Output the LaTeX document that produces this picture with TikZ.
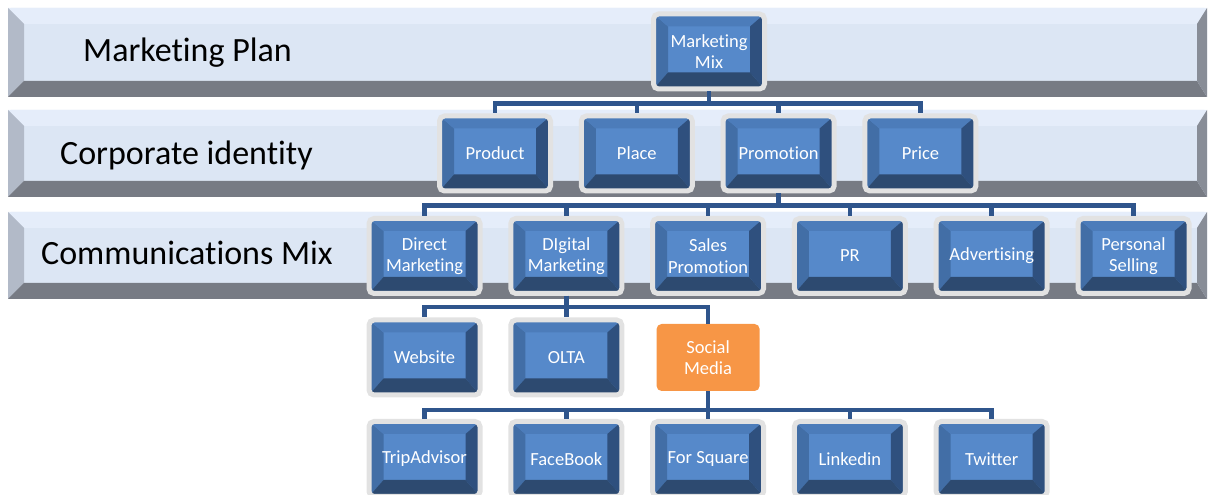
\documentclass[tikz,border=0pt]{standalone}
\usepackage{fontspec}
\setmainfont{Carlito}[Ligatures=NoCommon]
\usepackage{tikz}
\usetikzlibrary{calc, positioning}
\definecolor{bandface}{RGB}{220,230,244}
\definecolor{bandtop}{RGB}{229,237,250}
\definecolor{bandleft}{RGB}{178,186,200}
\definecolor{bandbottom}{RGB}{119,123,132}
\definecolor{bandright}{RGB}{136,141,151}
\definecolor{boxface}{RGB}{86,137,202}
\definecolor{boxleft}{RGB}{66,110,166}
\definecolor{boxtop}{RGB}{76,124,186}
\definecolor{boxright}{RGB}{47,80,126}
\definecolor{boxbottom}{RGB}{45,74,112}
\definecolor{rim}{RGB}{226,226,226}
\definecolor{lineblue}{RGB}{47,85,140}
\definecolor{hot}{RGB}{247,150,70}
\tikzstyle{box}=[fill=boxface, draw=rim, line width=5pt, rounded corners=5pt,
  minimum width=111pt, minimum height=75pt, inner sep=0pt, text=white, align=center,
  font=\fontsize{18.5}{21.5}\selectfont,
  path picture={
    \path (path picture bounding box.south west) coordinate (pa)
          (path picture bounding box.north east) coordinate (pb);
    \fill[boxleft, sharp corners] (pa) -- (pa|-pb) -- ($(pa|-pb)+(14.5pt,-12.5pt)$) -- ($(pa)+(14.5pt,16.5pt)$) -- cycle;
    \fill[boxtop, sharp corners] (pa|-pb) -- (pb) -- ($(pb)+(-14.5pt,-12.5pt)$) -- ($(pa|-pb)+(14.5pt,-12.5pt)$) -- cycle;
    \fill[boxright, sharp corners] (pb) -- (pb|-pa) -- ($(pb|-pa)+(-14.5pt,16.5pt)$) -- ($(pb)+(-14.5pt,-12.5pt)$) -- cycle;
    \fill[boxbottom, sharp corners] (pa) -- (pb|-pa) -- ($(pb|-pa)+(-14.5pt,16.5pt)$) -- ($(pa)+(14.5pt,16.5pt)$) -- cycle;
  }]
\tikzstyle{hotbox}=[fill=hot, rounded corners=5pt, minimum width=103pt, minimum height=67pt,
  inner sep=0pt, text=white, align=center, font=\fontsize{18.5}{21.5}\selectfont]
\tikzstyle{conn}=[draw=lineblue, line width=4.5pt]
\tikzstyle{bandlabel}=[anchor=base west, inner sep=0pt, font=\fontsize{34}{38}\selectfont]

\begin{document}
\begin{tikzpicture}[x=1pt,y=1pt,node distance=141.8pt]
  \useasboundingbox (0,0) rectangle (1208,495);
  \foreach \t/\b in {487/398, 385/298, 283/196} {
    \fill[bandface, rounded corners=3pt] (8,\b) rectangle (1207,\t);
    \fill[bandtop] (8,\t) -- (1207,\t) -- (1197,\t-16) -- (24,\t-16) -- cycle;
    \fill[bandleft] (8,\t) -- (24,\t-16) -- (24,\b+16) -- (8,\b) -- cycle;
    \fill[bandbottom] (8,\b) -- (24,\b+16) -- (1197,\b+16) -- (1207,\b) -- cycle;
    \fill[bandright] (1207,\t) -- (1197,\t-16) -- (1197,\b+16) -- (1207,\b) -- cycle;
  }
  \node [bandlabel] (plan) at (83,433) {Marketing Plan};
  \node [bandlabel] (corp) at (60,330) {Corporate identity};
  \node [bandlabel] (comm) at (41,230) {Communications Mix};

  \node [box] (mix) at (709,443.5) {Marketing\\Mix};

  \node [box] (product) at (495,341.5) {Product};
  \node [box] (place) [right of=product] {Place};
  \node [box] (promotion) [right of=place] {Promotion};
  \node [box] (price) [right of=promotion] {Price};

  \node [box] (direct) at (424.5,239) {Direct\\Marketing};
  \node [box] (digital) [right of=direct] {DIgital\\Marketing};
  \node [box] (sales) [right of=digital] {Sales\\Promotion};
  \node [box] (pr) [right of=sales] {PR};
  \node [box] (adv) [right of=pr] {Advertising};
  \node [box] (personal) [right of=adv] {Personal\\Selling};

  \node [box] (website) at (424.5,137.5) {Website};
  \node [box] (olta) [right of=website] {OLTA};
  \node [hotbox] (social) [right of=olta] {Social\\Media};

  \node [box] (trip) at (424.5,36) {TripAdvisor};
  \node [box] (facebook) [right of=trip] {FaceBook};
  \node [box] (square) [right of=facebook] {For Square};
  \node [box] (linkedin) [right of=square] {Linkedin};
  \node [box] (twitter) [right of=linkedin] {Twitter};

  \foreach \n in {product, place, promotion, price}
    \draw[conn] (mix.south) -- ++(0,-12) -| (\n.north);
  \foreach \n in {direct, digital, sales, pr, adv, personal}
    \draw[conn] (promotion.south) -- ++(0,-12) -| (\n.north);
  \foreach \n in {website, olta, social}
    \draw[conn] (digital.south) -- ++(0,-11) -| (\n.north);
  \foreach \n in {trip, facebook, square, linkedin, twitter}
    \draw[conn] (social.south) -- ++(0,-19) -| (\n.north);
\end{tikzpicture}
\end{document}
